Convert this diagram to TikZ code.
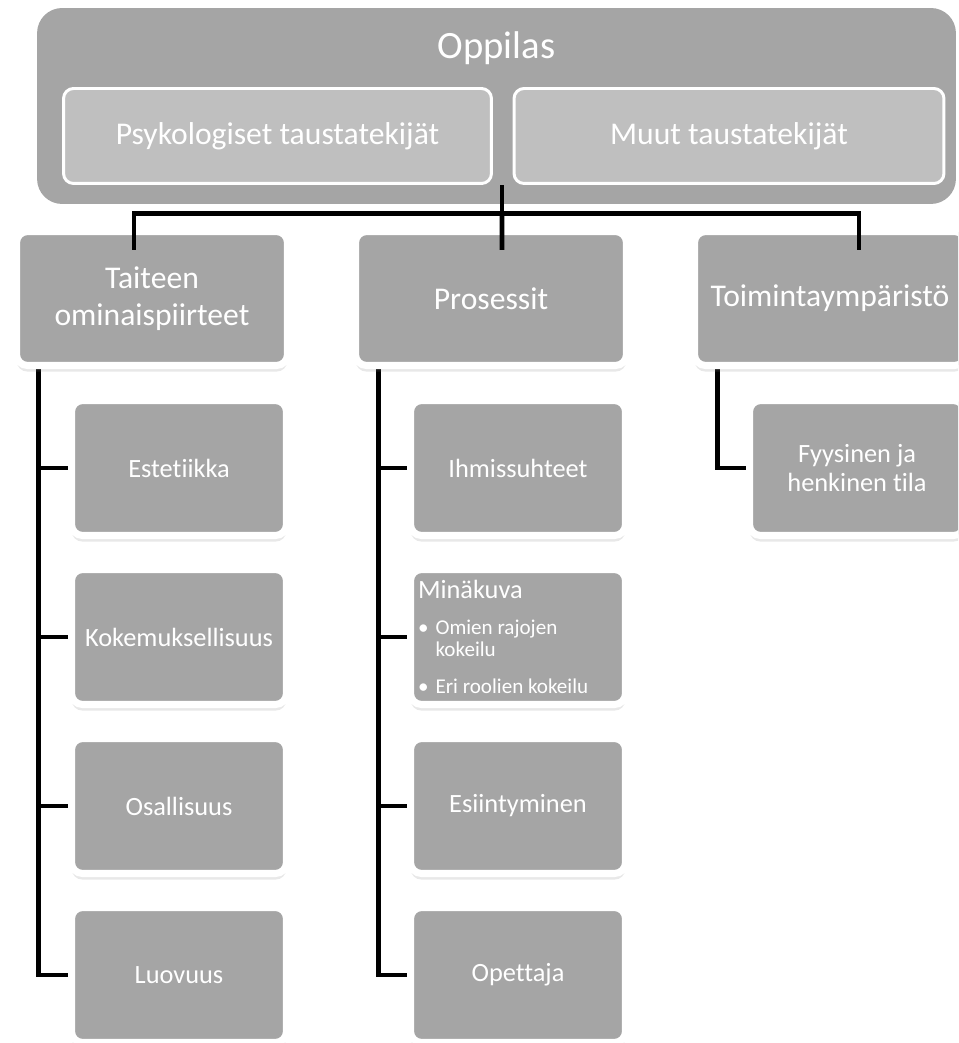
\documentclass[tikz,border=0pt]{standalone}
\usepackage{fontspec}
\setmainfont{Carlito}[Ligatures={NoCommon,NoDiscretionary,NoRare}]
\usetikzlibrary{positioning,calc,shadows,backgrounds}
\definecolor{laatikko}{RGB}{165,165,165}
\definecolor{vaalea}{RGB}{191,191,191}

\begin{document}
\begin{tikzpicture}[x=0.02cm, y=-0.02cm,
    ylin/.style={fill=laatikko, rounded corners=0.5cm, inner sep=0pt},
    tausta/.style={fill=vaalea, draw=white, line width=1.7pt, rounded corners=0.2cm,
        minimum height=1.9cm, text=white, inner sep=0pt, font=\fontsize{18}{21}\selectfont},
    taso/.style={fill=laatikko, draw=white, line width=4pt, rounded corners=0.22cm,
        text=white, align=center, inner sep=0pt,
        drop shadow={opacity=.18, shadow xshift=0pt, shadow yshift=-3.5pt}},
    paaluokka/.style={taso, minimum width=5.42cm, minimum height=2.68cm, font=\fontsize{18}{21}\selectfont},
    aliluokka/.style={taso, minimum width=4.3cm, minimum height=2.7cm, font=\fontsize{15}{17}\selectfont},
    yhteys/.style={line width=2.7pt, black}]
    \useasboundingbox (0,0) rectangle (958,1043);
    \clip (0,0) rectangle (958,1043);

    % --- Oppilas ---
    \node[ylin, minimum width=18.38cm, minimum height=3.92cm] (oppilas) at (496.5,106) {};
    \node[text=white, font=\fontsize{22}{26}\selectfont] (oppilasteksti) at (496.5,48) {Oppilas};
    \node[tausta, minimum width=8.56cm] (psyk) at (277.5,136) {Psykologiset taustatekijät};
    \node[tausta, minimum width=8.6cm] (muut) at (729,136) {Muut taustatekijät};

    % --- first level ---
    \node[paaluokka] (taiteen) at (152,298.5) {Taiteen\\ominaispiirteet};
    \node[paaluokka] (prosessit) at (491,298.5) {Prosessit};
    \node[paaluokka] (toiminta) at (830,298.5) {Toimintaympäristö};

    % --- second level, left ---
    \node[aliluokka] (estetiikka) at (179,468) {Estetiikka};
    \node[aliluokka, below=0.54cm of estetiikka] (kokemus) {Kokemuksellisuus};
    \node[aliluokka, below=0.54cm of kokemus] (osallisuus) {Osallisuus};
    \node[aliluokka, below=0.54cm of osallisuus] (luovuus) {Luovuus};

    % --- second level, middle ---
    \node[aliluokka] (ihmissuhteet) at (518,468) {Ihmissuhteet};
    \node[aliluokka, below=0.54cm of ihmissuhteet, text width=4cm, align=flush left] (minakuva)
        {Minäkuva\\[8pt]\fontsize{12}{12.5}\selectfont
         \makebox[10pt][l]{\textbullet}Omien rajojen\\ \hspace*{10pt}kokeilu\\[4pt]
         \makebox[10pt][l]{\textbullet}Eri roolien kokeilu};
    \node[aliluokka, below=0.54cm of minakuva] (esiintyminen) {Esiintyminen};
    \node[aliluokka, below=0.54cm of esiintyminen] (opettaja) {Opettaja};

    % --- second level, right ---
    \node[aliluokka] (fyysinen) at (857,468) {Fyysinen ja\\henkinen tila};

    % connectors from the top
    \coordinate (hub) at ($(oppilas.south)+(5.5,-19)$);
    \coordinate (tA) at ($(taiteen.north)+(-18,22)$);
    \coordinate (tB) at ($(prosessit.north)+(11,22)$);
    \coordinate (tC) at ($(toiminta.north)+(29,22)$);
    \draw[yhteys] (hub) -- ++(0,28) coordinate (bar);
    \draw[yhteys] (tA) |- (bar) -| (tC);
    \draw[yhteys] (bar) -- (tB);

    % connectors to the second level
    \begin{scope}[on background layer]
        \coordinate (ranka1) at ($(taiteen.south west)+(25.5,0)$);
        \coordinate (ranka2) at ($(prosessit.south west)+(26.5,0)$);
        \coordinate (ranka3) at ($(toiminta.south west)+(26.5,0)$);
        \draw[yhteys] (ranka1) |- (luovuus.west);
        \foreach \n in {estetiikka,kokemus,osallisuus}
            \draw[yhteys] (ranka1 |- \n.west) -- (\n.west);
        \draw[yhteys] (ranka2) |- (opettaja.west);
        \foreach \n in {ihmissuhteet,minakuva,esiintyminen}
            \draw[yhteys] (ranka2 |- \n.west) -- (\n.west);
        \draw[yhteys] (ranka3) |- (fyysinen.west);
    \end{scope}
\end{tikzpicture}
\end{document}
